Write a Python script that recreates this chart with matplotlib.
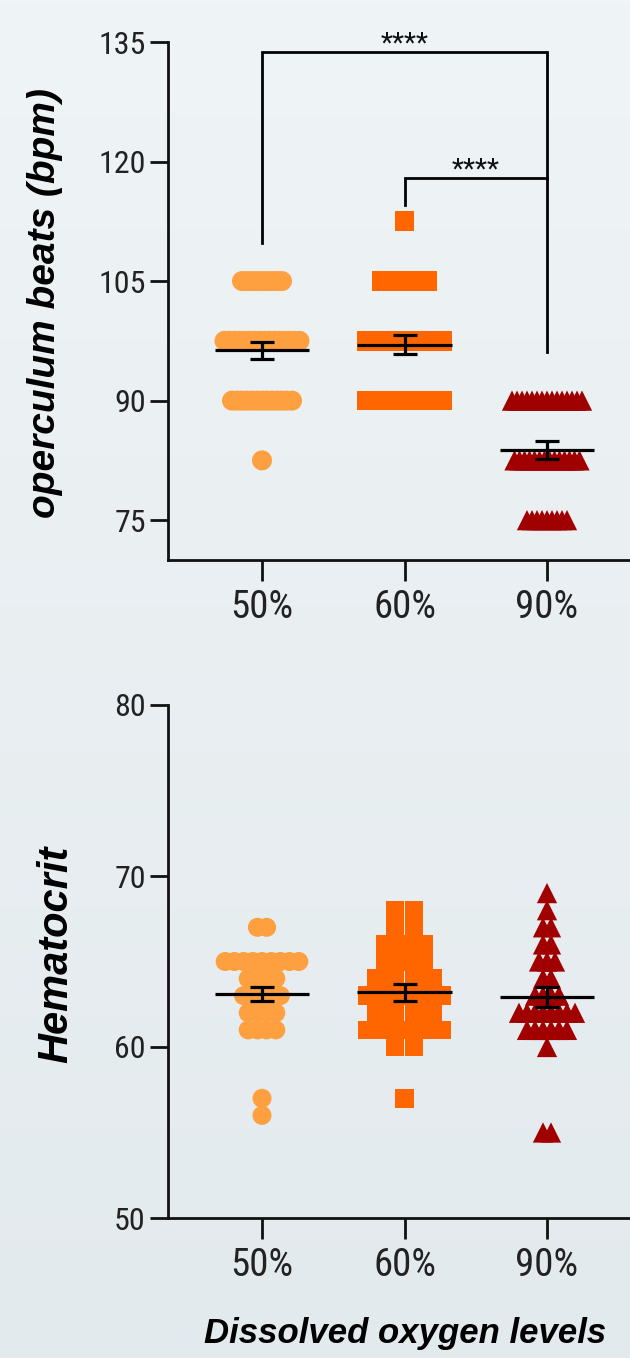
import numpy as np
import matplotlib.pyplot as plt
from matplotlib import font_manager

# grupos de oxigeno disuelto
grupos = ["50%", "60%", "90%"]
colores = ["#ffa040", "#ff6600", "#a00000"]
marcadores = ["o", "s", "^"]

# latidos del operculo: valores y cantidad de peces en cada valor
opr_valores = [[105, 97.5, 90, 82.5], [112.5, 105, 97.5, 90], [90, 82.5, 75]]
opr_cantidad = [[9, 16, 13, 1], [1, 10, 16, 16], [15, 14, 9]]
opr_media = [96.3, 97.0, 83.8]
opr_sem = [1.1, 1.2, 1.1]

# hematocrito
hct_valores = [[67, 65, 64, 63, 62, 61, 57, 56],
               [68, 67, 66, 65, 64, 63, 62, 61, 60, 57],
               [69, 68, 67, 66, 65, 64, 63, 62, 61, 60, 55]]
hct_cantidad = [[2, 9, 4, 5, 4, 4, 1, 1],
                [2, 2, 3, 3, 4, 5, 4, 5, 2, 1],
                [1, 1, 2, 2, 3, 2, 4, 8, 6, 1, 2]]
hct_media = [63.1, 63.2, 62.9]
hct_sem = [0.43, 0.49, 0.58]

# comparaciones significativas (grupo a, grupo b)
comparaciones = [(0, 2), (1, 2)]
etiqueta_sig = "****"

nombres = {f.name for f in font_manager.fontManager.ttflist}
fuente_num = "Liberation Sans"
for f in ["Roboto Condensed", "Archivo Narrow", "Pragati Narrow", "PT Sans Narrow"]:
    if f in nombres:
        fuente_num = f
        break

W, H = 630, 1358
fig = plt.figure(figsize=(W / 100, H / 100), dpi=100)

# fondo en degrade
fondo = fig.add_axes([0, 0, 1, 1], zorder=-10)
grad = np.linspace(0, 1, 256).reshape(-1, 1)
arriba = np.array([239, 244, 246]) / 255
abajo = np.array([227, 234, 237]) / 255
img = arriba + (abajo - arriba) * grad[:, :, None]
fondo.imshow(img, aspect="auto", extent=[0, 1, 0, 1])
fondo.axis("off")

px_cat = 142.5  # pixeles entre categorias
xlim = (-94 / px_cat, (W - 262) / px_cat)


def ejes(y_top, y_bot):
    ax = fig.add_axes([168 / W, 1 - y_bot / H, (W - 168) / W, (y_bot - y_top) / H])
    ax.set_facecolor("none")
    for s in ["top", "right"]:
        ax.spines[s].set_visible(False)
    for s in ["left", "bottom"]:
        ax.spines[s].set_linewidth(2)
        ax.spines[s].set_color("#111111")
    ax.set_xlim(*xlim)
    ax.set_xticks(range(len(grupos)))
    ax.set_xticklabels(grupos)
    ax.tick_params(axis="x", length=15, width=2, pad=6, labelsize=28, color="#111111", labelcolor="#222222")
    ax.tick_params(axis="y", length=13, width=2, pad=3, labelsize=23, color="#111111", labelcolor="#222222")
    for lab in ax.get_xticklabels() + ax.get_yticklabels():
        lab.set_fontfamily(fuente_num)
    return ax


def dibujar(ax, valores, cantidad, media, sem, paso_px, tam):
    for i in range(len(grupos)):
        xs, ys = [], []
        for v, n in zip(valores[i], cantidad[i]):
            off = (np.arange(n) - (n - 1) / 2) * paso_px[i] / px_cat
            xs.extend(i + off)
            ys.extend([v] * n)
        ax.scatter(xs, ys, s=tam[i] ** 2, marker=marcadores[i], color=colores[i],
                   edgecolors="none", zorder=2)
        ax.hlines(media[i], i - 0.33, i + 0.33, color="black", lw=2.3, zorder=4)
        ax.errorbar(i, media[i], yerr=sem[i], fmt="none", ecolor="black",
                    elinewidth=2.3, capsize=8.3, capthick=2.3, zorder=4)


# panel superior
ax1 = ejes(42, 560)
ax1.set_ylim(70, 135)
ax1.set_yticks([75, 90, 105, 120, 135])
dibujar(ax1, opr_valores, opr_cantidad, opr_media, opr_sem,
        paso_px=[5, 5, 5], tam=[14.4, 14.2, 14.6])

# corchetes de significancia
alturas = [133.7, 117.9]
patas = [(109.8, 96.1), (114.5, 96.1)]
for (a, b), h, (pa, pb) in zip(comparaciones, alturas, patas):
    ax1.plot([a, a, b, b], [pa, h, h, pb if a == 0 else h], color="black", lw=2, zorder=3,
             solid_joinstyle="miter", clip_on=False)
    ax1.text((a + b) / 2, h - 0.7, etiqueta_sig, ha="center", va="bottom",
             fontsize=20, fontfamily=fuente_num, color="#111111")

fig.text(45 / W, 1 - 303 / H, "operculum beats (bpm)", rotation=90, ha="center", va="center",
         fontsize=28, fontweight="bold", fontstyle="italic", fontfamily="Liberation Sans")

# panel inferior
ax2 = ejes(705, 1218)
ax2.set_ylim(50, 80)
ax2.set_yticks([50, 60, 70, 80])
dibujar(ax2, hct_valores, hct_cantidad, hct_media, hct_sem,
        paso_px=[9.2, 18.7, 8], tam=[13.7, 13.4, 14.6])

fig.text(56 / W, 1 - 954 / H, "Hematocrit", rotation=90, ha="center", va="center",
         fontsize=30, fontweight="bold", fontstyle="italic", fontfamily="Liberation Sans")
fig.text(405 / W, 1 - 1333 / H, "Dissolved oxygen levels", ha="center", va="center",
         fontsize=25, fontweight="bold", fontstyle="italic", fontfamily="Liberation Sans")

fig.savefig("out.png", dpi=100)
